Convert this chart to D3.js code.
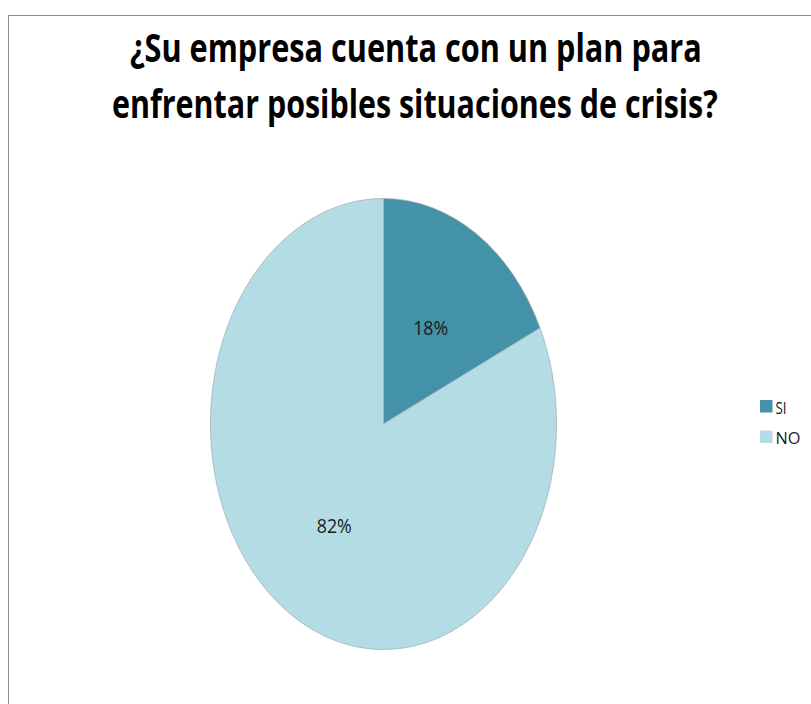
<!DOCTYPE html>
<html>
<head>
<meta charset="utf-8">
<script src="https://cdn.jsdelivr.net/npm/d3@7"></script>
<style>
  html, body { margin: 0; padding: 0; background: #fff; }
  svg { display: block; }
</style>
</head>
<body>
<svg id="chart" width="811" height="704"></svg>
<script>
// Survey answers
const categories = ["SI", "NO"];
const shares = [18, 82];
const sliceLabels = ["18%", "82%"];
const titleLines = [
  "¿Su empresa cuenta con un plan para",
  "enfrentar posibles situaciones de crisis?"
];
const colors = ["#4392a8", "#b4dce5"];

const svg = d3.select("#chart");
const W = 811, H = 704;

// Squeeze a text horizontally to a target width, anchored at its left edge
function fitWidth(sel, x, y, width) {
  sel.each(function () {
    const natural = this.getComputedTextLength();
    const s = width / natural;
    d3.select(this)
      .attr("x", 0).attr("y", 0)
      .attr("transform", `translate(${x},${y}) scale(${s},1)`);
  });
}

// Chart frame
svg.append("rect")
  .attr("x", 8.5).attr("y", 15.5)
  .attr("width", W + 10).attr("height", H + 10)
  .attr("fill", "#fff")
  .attr("stroke", "#8c8c8c")
  .attr("stroke-width", 1);

// Title
const titleSpecs = [
  { x: 130, y: 62, w: 572 },
  { x: 112, y: 118, w: 606 }
];
svg.append("g").selectAll("text")
  .data(titleLines)
  .join("text")
  .attr("font-family", "'Open Sans', sans-serif")
  .attr("font-weight", "bold")
  .attr("font-size", 40)
  .attr("fill", "#000")
  .text(d => d)
  .each(function (d, i) {
    fitWidth(d3.select(this), titleSpecs[i].x, titleSpecs[i].y, titleSpecs[i].w);
  });

// Pie (drawn as an ellipse)
const cx = 383.5, cy = 424, rx = 173, ry = 225.5;
const pie = d3.pie().sort(null).value(d => d);
const arcs = pie(shares);
const arc = d3.arc().innerRadius(0).outerRadius(ry);

const pieG = svg.append("g")
  .attr("transform", `translate(${cx},${cy}) scale(${rx / ry},1)`);

pieG.selectAll("path")
  .data(arcs)
  .join("path")
  .attr("d", arc)
  .attr("fill", (d, i) => colors[i])
  .attr("stroke", "#9fb3b8")
  .attr("stroke-width", 0.8)
  .attr("vector-effect", "non-scaling-stroke");

// Slice labels
const labelArc = d3.arc().innerRadius(ry * 0.52).outerRadius(ry * 0.52);
svg.append("g")
  .attr("transform", `translate(${cx},${cy + 3})`)
  .selectAll("text")
  .data(arcs)
  .join("text")
  .attr("x", d => labelArc.centroid(d)[0] * rx / ry - 1)
  .attr("y", d => labelArc.centroid(d)[1])
  .attr("dy", "0.35em")
  .attr("text-anchor", "middle")
  .attr("font-family", "'Open Sans', sans-serif")
  .attr("font-size", 20)
  .attr("textLength", 35)
  .attr("lengthAdjust", "spacingAndGlyphs")
  .attr("fill", "#1a1a1a")
  .text((d, i) => sliceLabels[i]);

// Legend
const legend = svg.append("g").attr("transform", "translate(760,400)");
const item = legend.selectAll("g")
  .data(categories)
  .join("g")
  .attr("transform", (d, i) => `translate(0,${i * 30.5})`);
item.append("rect")
  .attr("width", 12.5).attr("height", 12.5)
  .attr("fill", (d, i) => colors[i]);
item.append("text")
  .attr("x", 15.5).attr("y", 13.5)
  .attr("font-family", "'Open Sans', sans-serif")
  .attr("font-size", 17)
  .attr("textLength", d => d === "SI" ? 11 : 25)
  .attr("lengthAdjust", "spacingAndGlyphs")
  .attr("fill", "#1a1a1a")
  .text(d => d);
</script>
</body>
</html>
